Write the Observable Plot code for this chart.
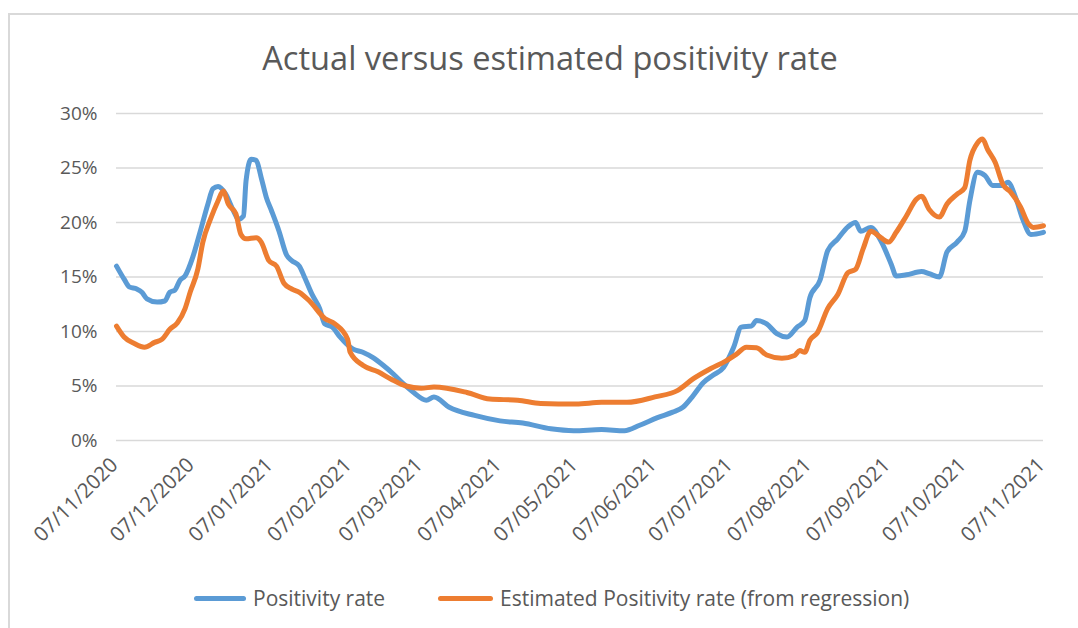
<!DOCTYPE html>
<html>
<head>
<meta charset="utf-8">
<script src="https://cdn.jsdelivr.net/npm/d3@7"></script>
<script src="https://cdn.jsdelivr.net/npm/@observablehq/plot@0.6"></script>
<style>
  html, body { margin: 0; padding: 0; background: #fff; }
  body { width: 1078px; height: 628px; position: relative; overflow: hidden; font-family: "Open Sans", sans-serif; color: #595959; }
  #frame { position: absolute; left: 8px; top: 13px; width: 1200px; height: 700px; border-left: 2px solid #d9d9d9; border-top: 2px solid #d9d9d9; }
  #chart { position: absolute; left: 0; top: 0; }
  #chart svg { overflow: visible; }
  #title { position: absolute; left: 0; width: 1100px; top: 42px; text-align: center; font-size: 32.6px; line-height: 32.6px; color: #595959; white-space: nowrap; }
  .leg { position: absolute; top: 588px; display: flex; align-items: center; font-size: 21px; line-height: 21px; color: #595959; white-space: nowrap; }
  .sw { height: 5px; border-radius: 3px; margin-right: 7px; }
</style>
</head>
<body>
<div id="frame"></div>
<div id="chart"></div>
<div id="title">Actual versus estimated positivity rate</div>
<div id="legend"></div>
<script>
// ---- Data ----
const seriesNames = ["Positivity rate", "Estimated Positivity rate (from regression)"];
const seriesColors = ["#5B9BD5", "#ED7D31"];

const actualDates = [
  "2020-11-07","2020-11-10","2020-11-12","2020-11-15","2020-11-17","2020-11-19","2020-11-23","2020-11-26","2020-11-28","2020-11-30",
  "2020-12-02","2020-12-04","2020-12-07","2020-12-10","2020-12-13","2020-12-15","2020-12-17","2020-12-20","2020-12-23","2020-12-25",
  "2020-12-27","2020-12-28","2020-12-30","2021-01-01","2021-01-03","2021-01-05","2021-01-07","2021-01-10","2021-01-13","2021-01-15",
  "2021-01-18","2021-01-20","2021-01-23","2021-01-26","2021-01-28","2021-01-31","2021-02-03","2021-02-08","2021-02-12","2021-02-16",
  "2021-02-20","2021-02-24","2021-02-28","2021-03-04","2021-03-09","2021-03-12","2021-03-18","2021-03-28","2021-04-07","2021-04-16",
  "2021-04-27","2021-05-06","2021-05-17","2021-05-26","2021-06-01","2021-06-08","2021-06-14","2021-06-18","2021-06-22","2021-06-26",
  "2021-06-30","2021-07-04","2021-07-08","2021-07-11","2021-07-15","2021-07-17","2021-07-21","2021-07-25","2021-07-29","2021-08-02",
  "2021-08-05","2021-08-07","2021-08-11","2021-08-14","2021-08-18","2021-08-22","2021-08-25","2021-08-27","2021-08-31","2021-09-04",
  "2021-09-08","2021-09-10","2021-09-14","2021-09-20","2021-09-23","2021-09-27","2021-09-30","2021-10-04","2021-10-07","2021-10-09",
  "2021-10-12","2021-10-15","2021-10-18","2021-10-22","2021-10-24","2021-10-27","2021-10-30","2021-11-02","2021-11-07"
];
const actualValues = [
  16.0,14.8,14.1,13.9,13.6,13.0,12.7,12.8,13.6,13.8,
  14.7,15.1,16.8,19.2,21.7,23.1,23.3,22.6,21.1,20.3,
  20.6,23.8,25.8,25.7,24.1,22.3,21.1,19.2,17.0,16.5,
  16.0,15.0,13.4,12.1,10.7,10.4,9.5,8.4,8.1,7.6,
  6.9,6.1,5.2,4.4,3.7,4.0,3.05,2.3,1.8,1.6,
  1.07,0.9,1.0,0.9,1.4,2.1,2.6,3.05,4.1,5.3,
  6.0,6.7,8.55,10.4,10.5,11.0,10.7,9.8,9.5,10.4,
  11.0,13.1,14.7,17.4,18.5,19.6,20.0,19.2,19.55,18.3,
  16.2,15.1,15.2,15.5,15.3,15.0,17.3,18.2,19.2,22.0,
  24.6,24.3,23.4,23.4,23.7,22.3,20.2,18.9,19.1
];

const estimatedDates = [
  "2020-11-07","2020-11-10","2020-11-14","2020-11-18","2020-11-22","2020-11-25","2020-11-28","2020-12-01","2020-12-04","2020-12-06",
  "2020-12-09","2020-12-11","2020-12-14","2020-12-17","2020-12-19","2020-12-21","2020-12-24","2020-12-26","2020-12-28","2021-01-01",
  "2021-01-03","2021-01-06","2021-01-09","2021-01-12","2021-01-15","2021-01-18","2021-01-22","2021-01-28","2021-02-01","2021-02-06",
  "2021-02-07","2021-02-12","2021-02-18","2021-02-23","2021-03-01","2021-03-07","2021-03-12","2021-03-25","2021-04-03","2021-04-14",
  "2021-04-23","2021-05-07","2021-05-17","2021-05-27","2021-06-07","2021-06-16","2021-06-22","2021-06-29","2021-07-05","2021-07-09",
  "2021-07-13","2021-07-17","2021-07-21","2021-07-27","2021-08-01","2021-08-03","2021-08-05","2021-08-07","2021-08-10","2021-08-14",
  "2021-08-18","2021-08-22","2021-08-25","2021-08-28","2021-08-31","2021-09-04","2021-09-07","2021-09-10","2021-09-14","2021-09-18",
  "2021-09-20","2021-09-23","2021-09-27","2021-09-30","2021-10-04","2021-10-07","2021-10-09","2021-10-12","2021-10-14","2021-10-16",
  "2021-10-19","2021-10-22","2021-10-25","2021-10-29","2021-11-01","2021-11-03","2021-11-07"
];
const estimatedValues = [
  10.5,9.5,8.9,8.55,9.0,9.3,10.2,10.8,12.1,13.6,
  15.7,18.2,20.3,22.0,22.9,21.7,20.8,18.9,18.5,18.6,
  18.2,16.5,16.0,14.4,13.9,13.6,12.8,11.2,10.7,9.3,
  8.1,6.9,6.3,5.65,5.0,4.8,4.9,4.4,3.8,3.7,
  3.4,3.35,3.5,3.5,4.0,4.6,5.65,6.6,7.3,7.9,
  8.55,8.5,7.85,7.55,7.8,8.25,8.1,9.2,9.9,12.1,
  13.4,15.4,15.7,17.6,19.2,18.6,18.2,19.1,20.6,22.15,
  22.4,21.2,20.5,21.7,22.6,23.2,25.7,27.3,27.65,26.7,
  25.5,23.5,22.8,21.4,19.9,19.55,19.7
];

const xTickLabels = [
  "07/11/2020","07/12/2020","07/01/2021","07/02/2021","07/03/2021","07/04/2021","07/05/2021",
  "07/06/2021","07/07/2021","07/08/2021","07/09/2021","07/10/2021","07/11/2021"
];
const yTicks = [0, 5, 10, 15, 20, 25, 30];

// ---- Build tables ----
const parseISO = d3.utcParse("%Y-%m-%d");
const parseTick = d3.utcParse("%d/%m/%Y");
const fmtTick = d3.utcFormat("%d/%m/%Y");
const actual = actualDates.map((d, i) => ({date: parseISO(d), value: actualValues[i]}));
const estimated = estimatedDates.map((d, i) => ({date: parseISO(d), value: estimatedValues[i]}));
const tickDates = xTickLabels.map(parseTick);

const chart = Plot.plot({
  width: 1078,
  height: 560,
  marginTop: 113,
  marginLeft: 116,
  marginRight: 35,
  marginBottom: 120,
  style: {fontFamily: "'Open Sans', sans-serif", fontSize: "19px", color: "#595959", background: "transparent", overflow: "visible"},
  x: {type: "utc", domain: [tickDates[0], tickDates[tickDates.length - 1]], label: null},
  y: {domain: [0, 30], label: null},
  marks: [
    Plot.gridY(yTicks, {stroke: "#d9d9d9", strokeOpacity: 1, strokeWidth: 1.5}),
    Plot.axisY(yTicks, {tickSize: 0, tickPadding: 19, tickFormat: d => d + "%", fill: "#595959", fontSize: 19}),
    Plot.axisX(tickDates, {tickSize: 0, tickPadding: 21, tickRotate: -45, tickFormat: fmtTick, fill: "#595959", fontSize: 20.5, dx: -2}),
    Plot.line(actual, {x: "date", y: "value", stroke: seriesColors[0], strokeWidth: 5, curve: "monotone-x", strokeLinejoin: "round", strokeLinecap: "round"}),
    Plot.line(estimated, {x: "date", y: "value", stroke: seriesColors[1], strokeWidth: 5, curve: "monotone-x", strokeLinejoin: "round", strokeLinecap: "round"})
  ]
});
document.getElementById("chart").appendChild(chart);

// ---- Legend ----
const legend = document.getElementById("legend");
const legendLeft = [194, 438];
const swatchWidth = [52, 55];
seriesNames.forEach((name, i) => {
  const item = document.createElement("div");
  item.className = "leg";
  item.style.left = legendLeft[i] + "px";
  const sw = document.createElement("span");
  sw.className = "sw";
  sw.style.width = swatchWidth[i] + "px";
  sw.style.background = seriesColors[i];
  const tx = document.createElement("span");
  tx.textContent = name;
  item.appendChild(sw);
  item.appendChild(tx);
  legend.appendChild(item);
});
</script>
</body>
</html>
